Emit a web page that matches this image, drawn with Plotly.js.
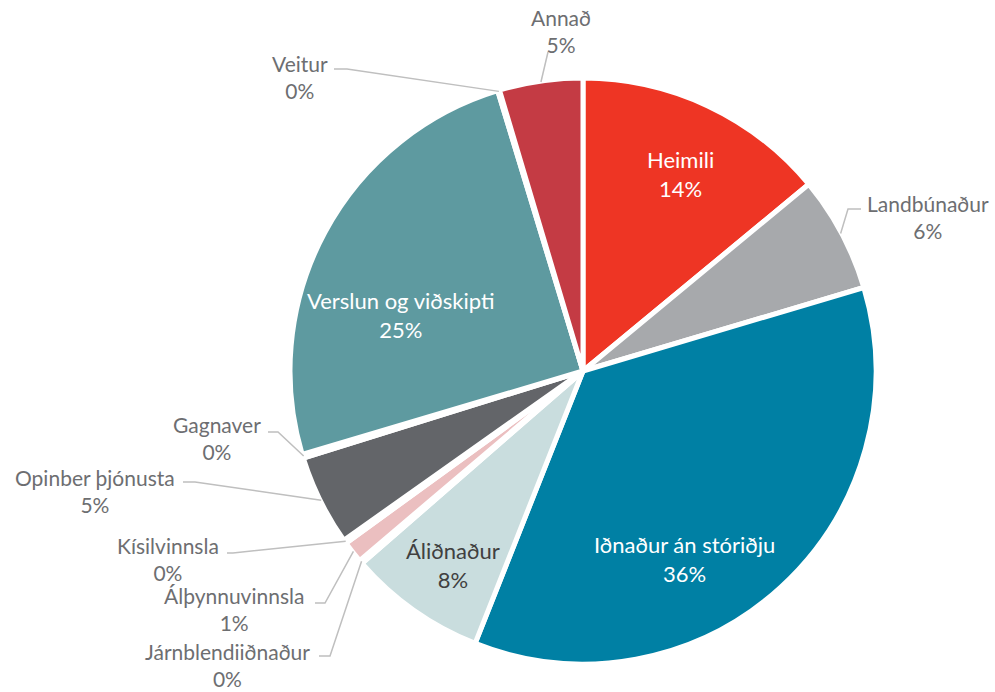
<!DOCTYPE html>
<html>
<head>
<meta charset="utf-8">
<script src="https://cdn.plot.ly/plotly-3.0.1.min.js"></script>
<style>html,body{margin:0;padding:0;background:#fff;}#chart{width:995px;height:692px;}</style>
</head>
<body>
<div id="chart"></div>
<script>
// ---- data ----
const categories = ["Heimili","Landbúnaður","Iðnaður án stóriðju","Áliðnaður","Járnblendiiðnaður","Álþynnuvinnsla","Kísilvinnsla","Opinber þjónusta","Gagnaver","Verslun og viðskipti","Veitur","Annað"];
const shares = [14.0, 6.4, 35.6, 7.6, 0.2, 1.2, 0.2, 5.0, 0.2, 24.9, 0.1, 4.6];
const colors = ["#EE3524","#A7A9AC","#0080A4","#C9DDDE","#B7B9BC","#EBBFC0","#B7B9BC","#636569","#B7B9BC","#5E9AA0","#B7B9BC","#C43B44"];

// ---- layout configuration (positions/styles) ----
const W = 995, H = 692;
const CX = 583, CY = 371, R = 293;   // pie centre & radius in px
// label block centres (px) and leader-line elbows
const insideLabels = {
  0: {x: 680, y: 174, color: "#FFFFFF"},
  2: {x: 684, y: 559, color: "#FFFFFF"},
  3: {x: 453, y: 565, color: "#404040"},
  9: {x: 400, y: 315, color: "#FFFFFF"}
};
const outsideLabels = {
  1:  {x: 928, y: 217, line: [[848, 209], [861, 209]]},
  4:  {x: 227, y: 665, line: [[330, 656], [319, 656]]},
  5:  {x: 234, y: 609, line: [[325, 603], [315, 603]]},
  6:  {x: 168, y: 559, line: [[233, 553], [227, 553]]},
  7:  {x: 95,  y: 491, line: [[195, 482], [183, 482]]},
  8:  {x: 217, y: 438, line: [[278, 432], [268, 432]]},
  10: {x: 300, y: 77,  line: [[347, 69], [334, 69]]},
  11: {x: 561, y: 31,  line: [[548, 52]]}
};

const px2x = v => v / W;
const py2y = v => 1 - v / H;

const total = shares.reduce((a, b) => a + b, 0);
const pctText = v => Math.round(v / total * 100) + "%";

const font = "Lato, 'Open Sans', sans-serif";
const FS_IN = 22, FS_OUT = 21;
const annotations = [];
const shapes = [];

let cum = 0;
shares.forEach((v, i) => {
  const mid = (cum + v / 2) / total * 2 * Math.PI;
  cum += v;
  const text = categories[i] + "<br>" + pctText(v);
  if (insideLabels[i]) {
    const L = insideLabels[i];
    annotations.push({x: px2x(L.x), y: py2y(L.y), xref: "paper", yref: "paper", text: text, showarrow: false,
      xanchor: "center", yanchor: "middle", align: "center", font: {family: font, size: FS_IN, color: L.color}});
  } else if (outsideLabels[i]) {
    const L = outsideLabels[i];
    annotations.push({x: px2x(L.x), y: py2y(L.y), xref: "paper", yref: "paper", text: text, showarrow: false,
      xanchor: "center", yanchor: "middle", align: "center", font: {family: font, size: FS_OUT, color: "#6D6E71"}});
    const ax = CX + (R - 1) * Math.sin(mid);
    const ay = CY - (R - 1) * Math.cos(mid);
    let path = "M" + px2x(ax) + "," + py2y(ay);
    L.line.forEach(p => { path += " L" + px2x(p[0]) + "," + py2y(p[1]); });
    shapes.push({type: "path", xref: "paper", yref: "paper", path: path, line: {color: "#BFBFBF", width: 1.5}});
  }
});

const trace = {
  type: "pie",
  labels: categories,
  values: shares,
  sort: false,
  direction: "clockwise",
  rotation: 0,
  textinfo: "none",
  hoverinfo: "label+percent",
  marker: {colors: colors, line: {color: "#FFFFFF", width: 5}},
  domain: {x: [(CX - R) / W, (CX + R) / W], y: [1 - (CY + R) / H, 1 - (CY - R) / H]},
  showlegend: false
};

Plotly.newPlot("chart", [trace], {
  width: W, height: H,
  margin: {l: 0, r: 0, t: 0, b: 0},
  paper_bgcolor: "#FFFFFF",
  showlegend: false,
  annotations: annotations,
  shapes: shapes
}, {displayModeBar: false, staticPlot: true});
</script>
</body>
</html>
